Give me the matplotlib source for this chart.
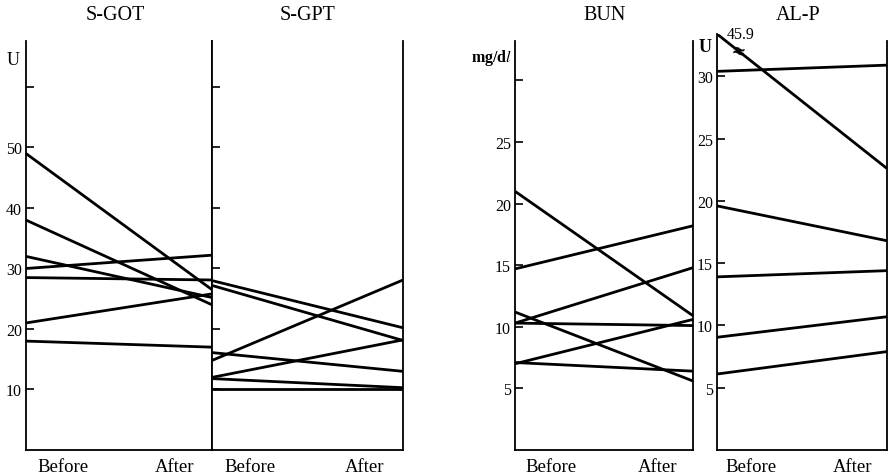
import numpy as np
import matplotlib.pyplot as plt

plt.rcParams['font.family'] = ['Liberation Serif', 'DejaVu Serif']
plt.rcParams['mathtext.fontset'] = 'stix'

phases = ['Before', 'After']

# S-GOT (U)
got_before = [49, 38, 32, 30, 28.5, 21, 18]
got_after = [26.5, 24, 25.2, 32.2, 28.1, 25.8, 17]
# S-GPT (U)
gpt_before = [28, 27.2, 14.8, 16.1, 12.0, 11.8, 10.0]
gpt_after = [20.2, 18.1, 28.1, 13.0, 18.2, 10.3, 10.0]
# BUN (mg/dl)
bun_before = [21.0, 14.7, 10.3, 10.3, 11.2, 7.0, 7.1]
bun_after = [10.9, 18.2, 14.8, 10.1, 5.6, 10.6, 6.4]
# AL-P (U)
alp_before = [45.9, 30.4, 19.6, 13.9, 9.05, 6.1]
alp_after = [22.6, 30.9, 16.8, 14.4, 10.7, 7.9]

W, H = 888, 477
fig = plt.figure(figsize=(W / 100, H / 100), dpi=100)


def px_axes(x0, x1, ytop, ybot=451):
    return fig.add_axes([x0 / W, 1 - ybot / H, (x1 - x0) / W, (ybot - ytop) / H])


def panel(ax, before, after, top, ticks, labels):
    ax.set_xlim(0, 1)
    ax.set_ylim(0, top)
    for b, a in zip(before, after):
        ax.plot([0, 1], np.minimum([b, a], top), color='black', lw=2.0,
                solid_capstyle='butt')
    for s in ['left', 'right', 'bottom']:
        ax.spines[s].set_linewidth(1.3)
    ax.spines['top'].set_visible(False)
    ax.set_yticks(ticks)
    ax.set_yticklabels(labels)
    ax.tick_params(axis='y', direction='in', length=6, width=1.2, labelsize=11.5, pad=3)
    ax.set_xticks([0.2, 0.8])
    ax.set_xticklabels(phases)
    ax.tick_params(axis='x', length=0, labelsize=13.5, pad=6)


ax1 = px_axes(26, 212, 42)
panel(ax1, got_before, got_after, 67.6, [10, 20, 30, 40, 50, 60],
      ['10', '20', '30', '40', '50', ''])
ax2 = px_axes(212, 403, 42)
panel(ax2, gpt_before, gpt_after, 67.6, [10, 20, 30, 40, 50, 60], [''] * 6)

ax3 = px_axes(515, 693, 42)
panel(ax3, bun_before, bun_after, 33.2, [5, 10, 15, 20, 25, 30],
      ['5', '10', '15', '20', '25', ''])
ax4 = px_axes(717, 887, 35)
panel(ax4, alp_before, alp_after, 33.4, [5, 10, 15, 20, 25, 30],
      ['5', '10', '15', '20', '25', '30'])
ax4.spines['right'].set_bounds(0, 32.8)

# unit labels
ax1.text(-0.07, 0.955, 'U', transform=ax1.transAxes, ha='center', va='center', fontsize=13)
ax3.text(-0.13, 0.96, 'mg/d$l$', transform=ax3.transAxes, ha='center', va='center',
         fontsize=11.5, fontweight='bold')
ax4.text(-0.07, 0.97, 'U', transform=ax4.transAxes, ha='center', va='center',
         fontsize=13, fontweight='bold')
ax4.text(0.06, 1.0, '%.1f' % alp_before[0], transform=ax4.transAxes, ha='left',
         va='center', fontsize=11.5)
ax4.text(0.12, 0.96, '≈', transform=ax4.transAxes, ha='center', va='center',
         fontsize=12, rotation=-15, family='DejaVu Sans', fontweight='bold')

# titles
for x, t in [(115, 'S-GOT'), (308, 'S-GPT'), (605, 'BUN'), (798, 'AL-P')]:
    fig.text(x / W, 1 - 15 / H, t, ha='center', va='center', fontsize=14.5)

fig.savefig('out.png', dpi=100)
